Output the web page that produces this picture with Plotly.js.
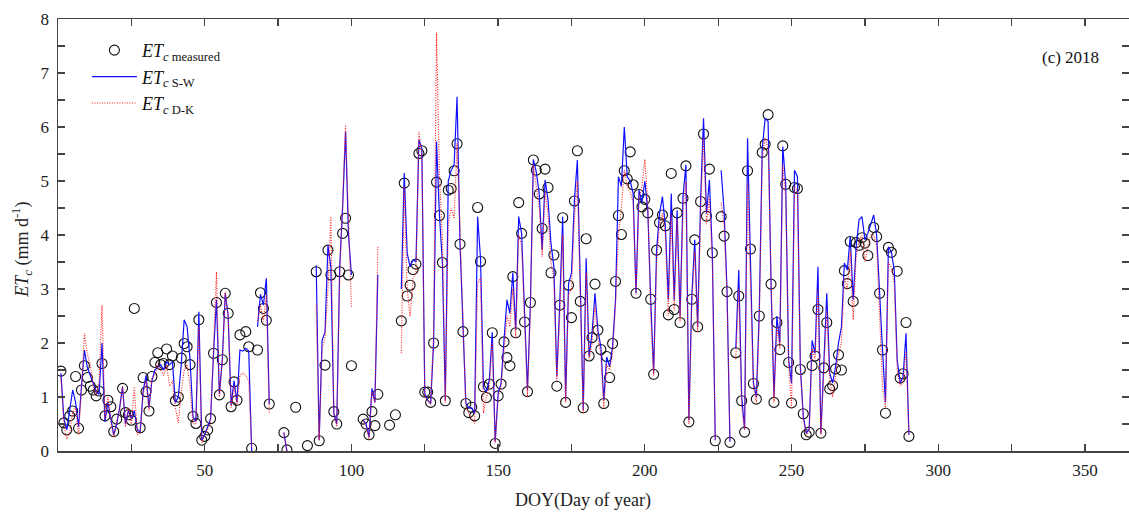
<!DOCTYPE html>
<html>
<head>
<meta charset="utf-8">
<script src="https://cdn.plot.ly/plotly-3.0.1.min.js"></script>
<style>html,body{margin:0;padding:0;background:#fff;overflow:hidden;}#chart{width:1129px;height:518px;}</style>
</head>
<body>
<div id="chart"></div>
<script>
// Measured ETc (day of year, mm/d)
var measuredDOY = [1,2,3,4,5,6,7,8,9,10,11,12,13,14,15,16,17,18,19,20,22,23,24,25,26,28,29,30,31,32,33,34,35,36,37,38,39,40,41,42,43,44,45,46,47,48,49,50,51,52,53,54,55,56,57,58,59,60,61,62,64,65,66,68,69,70,71,72,77,78,81,85,88,89,91,92,93,94,95,96,97,98,99,100,104,105,106,107,108,109,113,115,117,118,119,120,121,122,123,124,125,126,127,128,129,130,131,132,133,134,135,136,137,138,139,140,141,142,143,144,145,146,147,148,149,150,151,152,153,154,155,156,157,158,159,160,161,162,163,164,165,166,167,168,169,170,171,172,173,174,175,176,177,178,179,180,181,182,183,184,185,186,187,188,189,190,191,192,193,194,195,196,197,198,199,200,201,202,203,204,205,206,207,208,209,210,211,212,213,214,215,216,217,218,219,220,221,222,223,224,226,227,228,229,231,232,233,234,235,236,237,238,239,240,241,242,243,244,245,246,247,248,249,250,251,252,253,254,255,256,257,258,259,260,261,262,263,264,265,266,267,268,269,270,271,272,273,274,275,276,278,279,280,281,282,283,284,286,287,288,289,290];
var measuredET = [1.48,0.52,0.39,0.65,0.74,1.38,0.42,1.13,1.58,1.36,1.2,1.13,1.02,1.11,1.62,0.65,0.94,0.82,0.36,0.59,1.16,0.71,0.67,0.57,2.64,0.43,1.36,1.1,0.74,1.38,1.64,1.82,1.6,1.62,1.89,1.6,1.76,0.93,1.0,1.72,1.99,1.93,1.6,0.64,0.51,2.43,0.2,0.27,0.39,0.6,1.81,2.75,1.04,1.69,2.92,2.55,0.82,1.28,0.94,2.15,2.21,1.93,0.05,1.87,2.93,2.64,2.42,0.87,0.34,0.02,0.81,0.1,3.32,0.19,1.59,3.72,3.26,0.73,0.5,3.32,4.03,4.31,3.26,1.58,0.59,0.5,0.3,0.73,0.47,1.05,0.48,0.67,2.41,4.96,2.87,3.07,3.36,3.46,5.51,5.56,1.09,1.09,0.9,2.0,4.98,4.36,3.49,0.93,4.83,4.86,5.19,5.69,3.83,2.21,0.88,0.71,0.81,0.65,4.51,3.51,1.19,0.99,1.24,2.19,0.14,1.02,1.24,2.02,1.73,1.58,3.23,2.19,4.6,4.03,2.39,1.1,2.75,5.39,5.2,4.76,4.12,5.22,4.88,3.3,3.63,1.2,2.7,4.32,0.9,3.07,2.47,4.63,5.56,2.77,0.8,3.93,1.76,2.1,3.09,2.24,1.88,0.88,1.75,1.36,1.99,3.14,4.36,4.01,5.19,5.04,5.54,4.93,2.92,4.75,4.52,4.66,4.41,2.81,1.42,3.72,4.23,4.37,4.17,2.52,5.14,2.62,4.41,2.38,4.68,5.28,0.54,2.81,3.91,2.3,4.62,5.87,4.35,5.22,3.67,0.19,4.34,3.98,2.95,0.16,1.82,2.87,0.93,0.35,5.19,3.74,1.25,0.96,2.5,5.53,5.68,6.23,3.09,0.9,2.38,1.88,5.65,4.94,1.64,0.89,4.88,4.86,1.51,0.69,0.3,0.35,1.58,1.76,2.62,0.33,1.54,2.38,1.15,1.21,1.52,1.78,1.5,3.34,3.1,3.88,2.77,3.86,3.81,3.95,3.85,3.62,4.14,3.97,2.92,1.87,0.7,3.77,3.68,3.33,1.35,1.43,2.38,0.27];

// Modelled ETc, one value per day starting at DOY 1 (null = no value)
var modelStartDOY = 1;
var etSW = [
1.44,0.6,0.39,0.75,1.13,0.9,0.45,1.2,1.87,1.55,
1.4,1.25,1.1,1.05,2.0,0.54,0.9,0.6,0.3,0.5,
0.8,1.19,0.5,0.75,0.6,0.75,0.4,0.35,1.1,1.4,
0.8,1.3,1.5,1.55,1.6,1.5,1.65,1.6,1.65,0.9,
1.0,1.6,2.43,2.3,1.7,0.64,0.55,2.58,0.2,0.3,
0.45,0.6,1.8,2.8,1.05,1.7,2.92,2.5,0.85,1.3,
0.9,1.87,1.85,1.9,1.85,0.0,null,2.3,2.9,2.7,
3.2,0.87,null,null,null,null,0.34,0.0,null,null,
null,null,null,null,null,null,null,3.44,0.2,2.05,
2.2,3.81,3.4,0.7,0.5,3.41,4.5,5.91,4.0,3.26,
null,null,null,0.57,0.5,0.26,1.16,0.9,3.26,null,
null,null,null,null,null,null,3.0,5.15,3.66,3.41,
3.54,3.5,5.76,5.6,1.07,0.94,0.88,2.0,5.73,4.37,
3.48,0.94,5.0,5.2,5.3,6.56,3.85,2.21,0.88,0.8,
0.8,0.7,4.34,3.56,1.17,1.1,1.31,2.2,0.17,1.07,
1.25,2.05,2.8,2.55,3.3,2.24,4.34,4.03,2.39,1.13,
2.74,5.4,5.17,4.77,3.72,5.02,4.65,3.85,3.41,1.38,
2.74,4.34,0.94,3.1,3.3,4.65,5.39,2.8,0.76,3.57,
1.75,2.18,2.92,2.24,1.93,0.94,1.74,1.56,1.93,2.8,
5.08,4.9,6.0,5.08,5.0,4.77,2.92,4.83,4.6,5.0,
4.46,2.8,1.44,3.72,4.4,4.71,4.15,2.8,4.77,2.8,
4.46,2.49,4.71,5.3,0.57,2.86,3.91,2.3,4.65,6.16,
4.4,5.02,3.66,0.2,null,5.2,4.46,2.98,0.17,null,
1.9,3.35,1.0,0.4,5.79,3.41,1.26,1.0,2.6,5.6,
6.16,6.1,3.1,1.0,2.5,2.0,5.64,4.96,1.69,1.25,
5.2,5.08,1.56,0.64,0.33,0.4,2.05,1.81,3.41,0.33,
1.56,2.92,1.44,1.26,1.56,2.0,2.3,3.48,3.35,3.97,
2.8,3.78,4.28,4.34,3.91,4.03,4.2,4.37,4.0,2.8,
1.87,0.9,3.78,3.69,3.35,1.69,1.26,1.37,2.18,0.3];
var etDK = [
1.35,0.5,0.22,0.35,0.7,0.8,0.3,1.1,2.18,1.8,
1.6,1.2,1.05,1.3,2.7,0.6,1.0,0.55,0.25,0.55,
0.75,1.2,0.45,0.8,0.5,1.19,0.3,0.33,1.05,1.3,
0.75,1.35,1.4,1.6,1.5,1.4,1.6,1.2,1.3,0.8,
0.52,1.1,1.5,1.6,1.2,0.5,0.5,2.3,0.15,0.3,
0.4,0.55,1.9,3.32,1.0,1.65,2.95,2.5,0.8,1.2,
0.85,1.4,1.44,1.4,1.3,0.05,null,2.4,2.7,2.4,
2.9,0.7,null,null,null,null,0.34,0.0,null,null,
null,null,null,null,null,null,null,2.7,0.2,1.9,
2.1,3.0,4.34,0.7,0.45,3.2,4.6,6.04,4.3,2.67,
null,null,null,0.55,0.45,0.22,1.1,0.9,3.78,null,
null,null,null,null,null,null,1.81,4.9,3.0,2.49,
3.2,3.3,5.91,5.5,1.0,0.95,0.85,2.2,7.75,5.1,
3.9,0.9,4.2,4.5,4.3,5.7,4.1,2.6,0.8,0.7,
0.6,0.5,3.1,3.2,0.7,1.0,1.2,2.0,0.15,1.0,
1.2,1.9,2.5,2.3,3.0,2.1,4.0,3.8,2.3,1.0,
2.6,5.3,4.9,4.5,3.6,4.8,4.4,3.5,3.2,1.3,
2.5,4.0,0.9,2.9,3.0,4.3,5.0,2.6,0.7,3.3,
1.7,2.0,2.7,2.1,1.8,0.8,1.6,1.5,1.8,2.7,
4.0,4.5,5.2,4.9,4.8,4.6,2.9,4.7,4.9,5.4,
4.6,2.5,1.4,3.5,4.2,4.4,4.0,2.5,4.4,2.6,
4.3,2.4,4.5,5.0,0.5,2.7,3.7,2.2,4.4,5.8,
4.2,4.7,3.5,0.2,null,4.6,4.2,2.9,0.2,null,
1.7,3.0,0.8,0.4,5.0,3.3,1.2,0.9,2.4,5.4,
5.8,5.6,3.0,0.9,2.3,1.9,5.3,4.7,1.6,0.8,
4.9,4.8,1.5,0.6,0.3,0.35,1.9,1.7,3.0,0.3,
1.5,2.6,1.3,1.0,1.4,1.8,2.0,3.2,3.0,3.7,
2.43,3.6,3.9,4.0,3.5,3.8,4.0,4.0,3.8,2.5,
1.2,0.8,3.5,3.4,3.1,1.5,1.2,1.3,1.83,0.3];

var xTickVals = [25,50,75,100,125,150,175,200,225,250,275,300,325,350];
var xTickText = ['','50','','100','','150','','200','','250','','300','','350'];
var yTickVals = [0,0.5,1,1.5,2,2.5,3,3.5,4,4.5,5,5.5,6,6.5,7,7.5,8];
var yTickText = ['0','','1','','2','','3','','4','','5','','6','','7','','8'];

var modelDOY = etSW.map(function(_, i){ return modelStartDOY + i; });

var FONT = 'Liberation Serif, Times New Roman, serif';

var traces = [
  {x: measuredDOY, y: measuredET, type: 'scatter', mode: 'markers',
   name: '<i>ET</i><sub><i>c</i> measured</sub>',
   marker: {symbol: 'circle-open', size: 10, color: '#111', line: {width: 1.1, color: '#111'}}},
  {x: modelDOY, y: etSW, type: 'scatter', mode: 'lines',
   name: '<i>ET</i><sub><i>c</i> S-W</sub>',
   line: {color: '#1010ff', width: 1.2}, connectgaps: false},
  {x: modelDOY, y: etDK, type: 'scatter', mode: 'lines',
   name: '<i>ET</i><sub><i>c</i> D-K</sub>',
   line: {color: '#ff1a1a', width: 1.1, dash: '1px,1.5px'}, connectgaps: false}
];

var layout = {
  width: 1129, height: 518,
  margin: {l: 58, r: 0, t: 19, b: 67},
  paper_bgcolor: '#fff', plot_bgcolor: '#fff',
  font: {family: FONT, size: 17, color: '#222'},
  showlegend: true,
  legend: {x: 0.027, y: 0.97, xanchor: 'left', yanchor: 'top', itemwidth: 45,
           bgcolor: 'rgba(0,0,0,0)', font: {family: FONT, size: 18, color: '#111'},
           tracegroupgap: 0},
  xaxis: {range: [0, 365], tickmode: 'array', tickvals: xTickVals, ticktext: xTickText,
          ticks: 'inside', ticklen: 7, tickwidth: 1.3, tickcolor: '#444',
          showline: true, linewidth: 1.5, linecolor: '#444', mirror: 'allticks',
          showgrid: false, zeroline: false, ticklabelstandoff: 3,
          tickfont: {family: FONT, size: 17, color: '#222'}},
  yaxis: {range: [0, 8], tickmode: 'array', tickvals: yTickVals, ticktext: yTickText,
          ticks: 'inside', ticklen: 7, tickwidth: 1.3, tickcolor: '#444',
          showline: true, linewidth: 1.5, linecolor: '#444', mirror: 'allticks',
          showgrid: false, zeroline: false, ticklabelstandoff: 4,
          tickfont: {family: FONT, size: 17, color: '#222'}},
  annotations: [
    {text: '(c) 2018', xref: 'paper', yref: 'paper', x: 0.945, y: 0.912,
     xanchor: 'center', yanchor: 'middle', showarrow: false,
     font: {family: FONT, size: 17, color: '#111'}},
    {text: 'DOY(Day of year)', xref: 'paper', yref: 'paper', x: 0.49, y: -0.115,
     xanchor: 'center', yanchor: 'middle', showarrow: false,
     font: {family: FONT, size: 18, color: '#222'}},
    {text: '<i>ET<sub>c</sub></i> (mm d<sup>-1</sup>)', xref: 'paper', yref: 'paper',
     x: -0.034, y: 0.465, xanchor: 'center', yanchor: 'middle', textangle: -90,
     showarrow: false, font: {family: FONT, size: 18, color: '#222'}}
  ]
};

Plotly.newPlot('chart', traces, layout, {displayModeBar: false, staticPlot: true});
</script>
</body>
</html>
